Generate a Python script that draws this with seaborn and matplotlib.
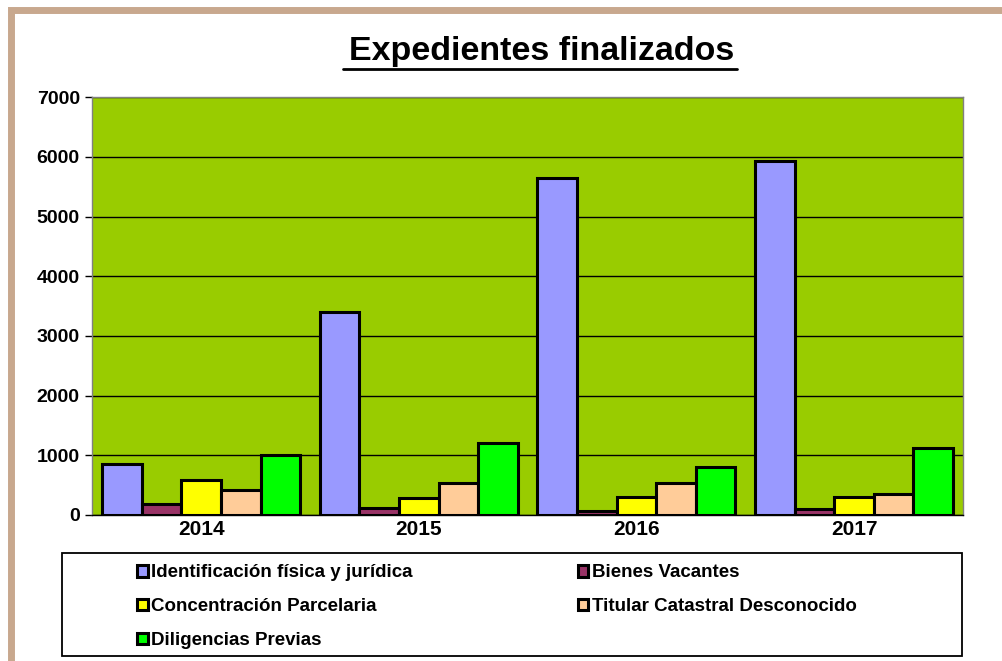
import matplotlib
matplotlib.use("Agg")
import matplotlib.pyplot as plt
import seaborn as sns
import pandas as pd
from matplotlib.patches import Rectangle

years = ["2014", "2015", "2016", "2017"]
series_names = ["Identificación física y jurídica", "Bienes Vacantes",
                "Concentración Parcelaria", "Titular Catastral Desconocido",
                "Diligencias Previas"]
identificacion = [850, 3400, 5640, 5930]
bienes = [180, 120, 70, 100]
concentracion = [585, 290, 300, 300]
titular = [420, 535, 535, 355]
diligencias = [1000, 1205, 805, 1120]
colors = ["#9999FF", "#993366", "#FFFF00", "#FFCC99", "#00FF00"]
yticks = [0, 1000, 2000, 3000, 4000, 5000, 6000, 7000]

values = [identificacion, bienes, concentracion, titular, diligencias]
rows = []
for name, vals in zip(series_names, values):
    for y, v in zip(years, vals):
        rows.append({"Año": y, "Serie": name, "Valor": v})
df = pd.DataFrame(rows)

sns.set_theme(style="white")
plt.rcParams['font.family'] = ['Liberation Sans', 'DejaVu Sans']
plt.rcParams['text.color'] = 'black'
plt.rcParams['xtick.color'] = 'black'
plt.rcParams['ytick.color'] = 'black'

fig = plt.figure(figsize=(10.03, 6.61), dpi=100)
ax = fig.add_axes([0.092, 0.221, 0.868, 0.632])

sns.barplot(data=df, x="Año", y="Valor", hue="Serie", hue_order=series_names,
            palette=colors, width=0.91, gap=0, edgecolor="black", linewidth=2.2,
            saturation=1, ax=ax, legend=True)

ax.set_facecolor("#99CC00")
ax.set_ylim(0, 7000)
ax.set_yticks(yticks)
ax.set_yticklabels([str(t) for t in yticks], fontsize=14, fontweight="bold")
ax.set_xticks(range(len(years)))
ax.set_xticklabels(years, fontsize=15, fontweight="bold")
ax.tick_params(axis="y", length=5, width=1, color="black", direction="out", left=True, pad=4)
ax.tick_params(axis="x", length=0, pad=4)
ax.grid(axis="y", color="black", linewidth=1)
ax.set_axisbelow(True)
ax.set_xlabel("")
ax.set_ylabel("")
for s in ax.spines.values():
    s.set_color("#808080")
    s.set_linewidth(1)
ax.spines["bottom"].set_color("black")

fig.text(0.5396, 0.922, "Expedientes finalizados", ha="center", va="center",
         fontsize=24.5, fontweight="bold", color="black")
# underline
fig.add_artist(plt.Line2D([0.342, 0.735], [0.896, 0.896], color="black", linewidth=2,
                          transform=fig.transFigure))

handles, labels = ax.get_legend_handles_labels()
ax.get_legend().remove()

common = dict(frameon=False, handlelength=0.55, handleheight=0.55,
              handletextpad=0.2, labelspacing=0.9,
              prop={"weight": "bold", "size": 13.5}, borderaxespad=0, borderpad=0)
leg1 = fig.legend([handles[i] for i in [0, 2, 4]], [labels[i] for i in [0, 2, 4]],
                  loc="upper left", bbox_to_anchor=(0.137, 0.146), **common)
leg2 = fig.legend([handles[i] for i in [1, 3]], [labels[i] for i in [1, 3]],
                  loc="upper left", bbox_to_anchor=(0.576, 0.146), **common)

# legend frame
fig.add_artist(Rectangle((0.062, 0.007), 0.897, 0.157, transform=fig.transFigure,
                         fill=False, edgecolor="black", linewidth=1.3))

# beige outer frame
fig.add_artist(Rectangle((0.0105, -0.05), 1.2, 1.035, transform=fig.transFigure,
                         fill=False, edgecolor="#C8A88E", linewidth=5))

fig.savefig("out.png", dpi=100)
